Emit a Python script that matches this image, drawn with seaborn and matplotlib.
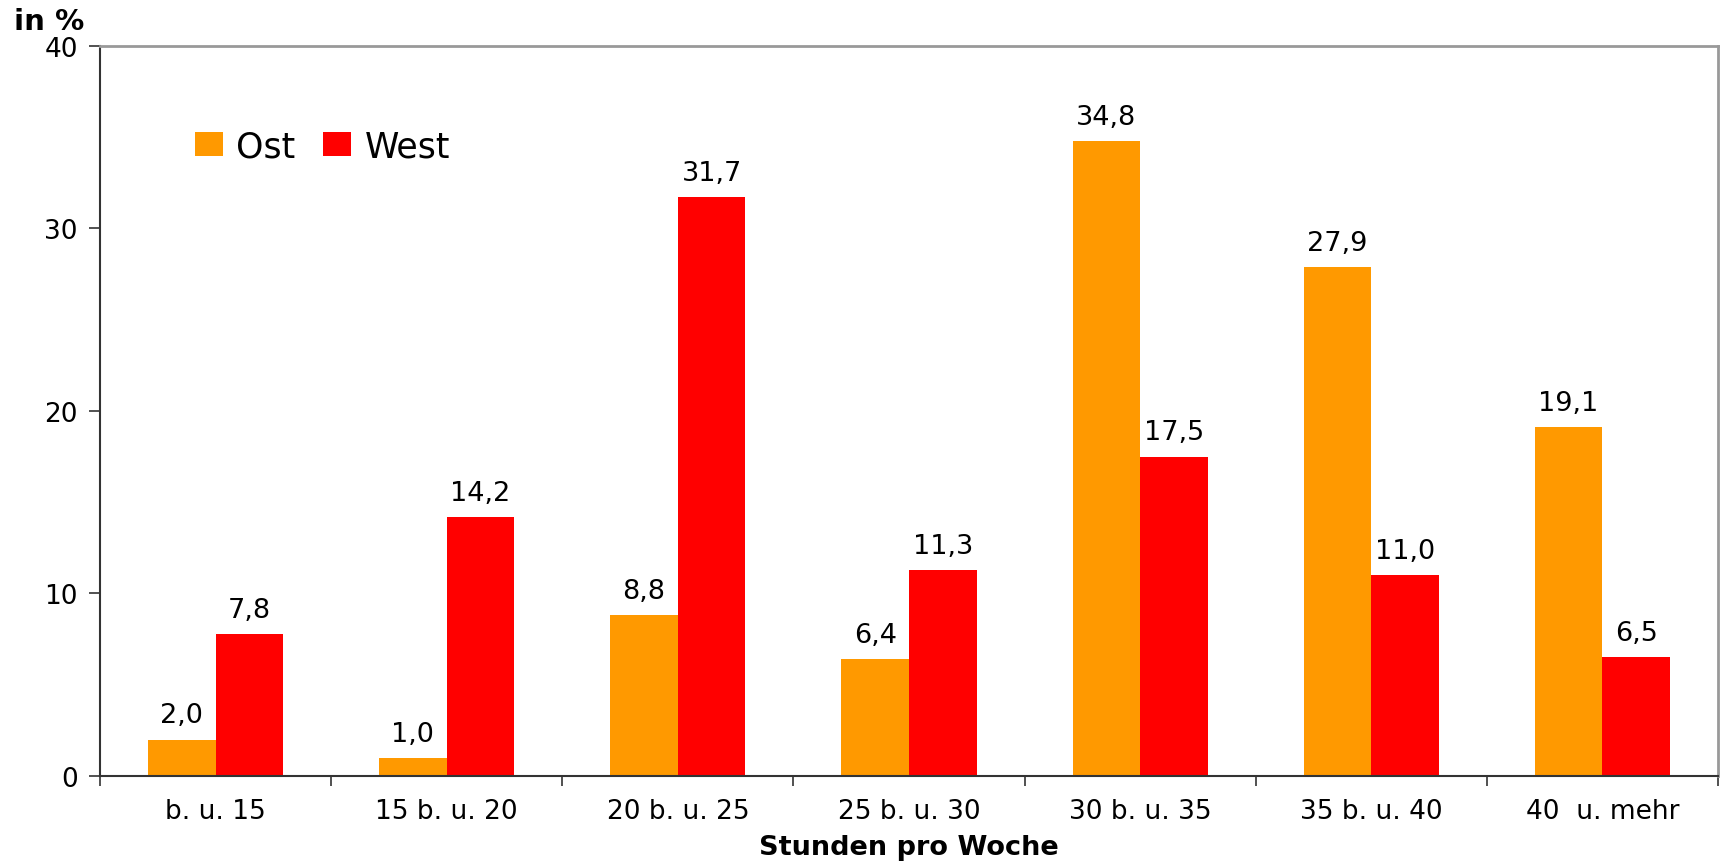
import numpy as np
import pandas as pd
import matplotlib
matplotlib.use("Agg")
import matplotlib.pyplot as plt
import seaborn as sns
from matplotlib.ticker import FixedLocator

# Weekly working hours, share of employees in %
categories = ["b. u. 15", "15 b. u. 20", "20 b. u. 25", "25 b. u. 30",
              "30 b. u. 35", "35 b. u. 40", "40  u. mehr"]
ost = [2.0, 1.0, 8.8, 6.4, 34.8, 27.9, 19.1]
west = [7.8, 14.2, 31.7, 11.3, 17.5, 11.0, 6.5]
series = ["Ost", "West"]
colors = {"Ost": "#FF9900", "West": "#FF0000"}

df = pd.DataFrame({
    "Stunden": categories * 2,
    "Anteil": ost + west,
    "Region": ["Ost"] * len(categories) + ["West"] * len(categories),
})

sns.set_theme(style="white")
plt.rcParams["font.family"] = ["DejaVu Sans"]
plt.rcParams["text.color"] = "black"

fig = plt.figure(figsize=(17.24, 8.62), dpi=100)
ax = fig.add_axes([0.058, 0.0986, 0.9385, 0.847])

sns.barplot(data=df, x="Stunden", y="Anteil", hue="Region", order=categories,
            hue_order=series, palette=colors, width=0.585, gap=0,
            saturation=1, edgecolor="none", linewidth=0, ax=ax)

for cont in ax.containers:
    vals = [rect.get_height() for rect in cont]
    ax.bar_label(cont, labels=[f"{v:.1f}".replace(".", ",") for v in vals],
                 padding=8, fontsize=19.5, color="black")

ax.set_xlim(-0.5, len(categories) - 0.5)
ax.set_ylim(0, 40)
ax.set_yticks([0, 10, 20, 30, 40])
ax.tick_params(axis="y", which="major", left=True, length=8, width=1.2,
               color="#333333", labelsize=19, pad=8, labelcolor="black")
ax.tick_params(axis="x", which="major", bottom=False, length=0,
               labelsize=19, pad=16, labelcolor="black")
ax.xaxis.set_minor_locator(FixedLocator(np.arange(-0.5, len(categories), 1.0)))
ax.tick_params(axis="x", which="minor", bottom=True, length=7, width=1.2,
               color="#333333")

ax.set_xlabel("Stunden pro Woche", fontsize=19.5, fontweight="bold", labelpad=7,
              color="black")
ax.set_ylabel("")
fig.text(0.008, 0.975, "in %", fontsize=21, fontweight="bold", ha="left",
         va="center", color="black")

for side in ("left", "bottom"):
    ax.spines[side].set_color("#333333")
    ax.spines[side].set_linewidth(1.5)
for side in ("top", "right"):
    ax.spines[side].set_color("#999999")
    ax.spines[side].set_linewidth(2)

ax.legend(loc="upper left", bbox_to_anchor=(0.05, 0.905), ncol=2, frameon=False,
          fontsize=25, handlelength=0.8, handleheight=0.7, handletextpad=0.4,
          columnspacing=0.8, borderaxespad=0, labelcolor="black")

fig.savefig("out.png", dpi=100, facecolor="white")
